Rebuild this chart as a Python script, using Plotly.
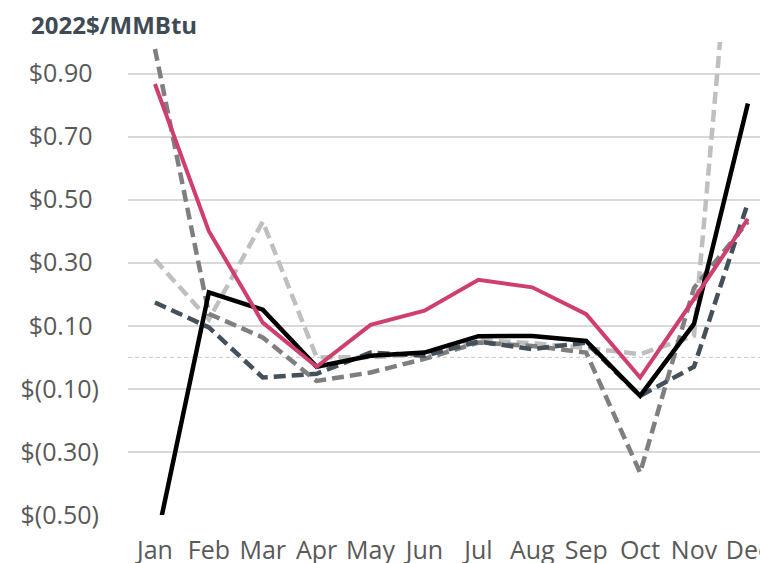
import plotly.graph_objects as go

months = ["Jan", "Feb", "Mar", "Apr", "May", "Jun", "Jul", "Aug", "Sep", "Oct", "Nov", "Dec"]

light_gray = [0.31, 0.12, 0.43, 0.00, 0.00, 0.01, 0.055, 0.045, 0.03, 0.01, 0.068, 2.0]
medium_gray = [0.978, 0.138, 0.063, -0.075, -0.048, -0.005, 0.047, 0.036, 0.015, -0.366, 0.22, 0.43]
dark_slate = [0.174, 0.095, -0.064, -0.052, 0.015, 0.005, 0.05, 0.026, 0.047, -0.122, -0.03, 0.49]
black = [-0.605, 0.206, 0.151, -0.03, 0.005, 0.015, 0.067, 0.068, 0.052, -0.122, 0.106, 0.805]
magenta = [0.867, 0.40, 0.11, -0.03, 0.103, 0.148, 0.246, 0.222, 0.137, -0.064, 0.185, 0.439]

tick_vals = [-0.5, -0.3, -0.1, 0.1, 0.3, 0.5, 0.7, 0.9]
tick_text = ["$(0.50)", "$(0.30)", "$(0.10)", "$0.10\u00a0", "$0.30\u00a0", "$0.50\u00a0", "$0.70\u00a0", "$0.90\u00a0"]

FONT = "Open Sans"
fig = go.Figure()

series = [
    (light_gray, "#BFBFBF", "12px,6px", 4.5),
    (medium_gray, "#7F7F7F", "12px,6px", 4.5),
    (dark_slate, "#44505C", "12px,6px", 4.5),
    (black, "#000000", "solid", 4.5),
    (magenta, "#CF3F6E", "solid", 4),
]
for vals, color, dash, w in series:
    fig.add_trace(go.Scatter(
        x=list(range(len(months))), y=vals, mode="lines",
        line=dict(color=color, width=w, dash=dash),
        hoverinfo="skip", showlegend=False,
    ))

fig.add_shape(type="line", xref="paper", yref="y", x0=0, x1=1, y0=0, y1=0,
              line=dict(color="#C8C8C8", width=1, dash="4px,3px"), layer="below")

fig.add_annotation(text="<b>2022$/MMBtu</b>", xref="paper", yref="paper",
                   x=(29 - 128) / 632, y=1, yshift=18, xanchor="left", yanchor="middle",
                   showarrow=False, font=dict(family=FONT, size=24, color="#3F4A55"))

fig.update_layout(
    width=760, height=563,
    margin=dict(l=128, r=0, t=42, b=48),
    paper_bgcolor="white", plot_bgcolor="white",
    font=dict(family=FONT, size=25, color="#595959"),
    showlegend=False,
    xaxis=dict(
        range=[-0.5, (760 - 155) / 53.9],
        tickmode="array", tickvals=list(range(len(months))), ticktext=months,
        showgrid=False, zeroline=False, showline=False, ticks="",
        ticklabelstandoff=18, automargin=False, ticklabeloverflow="allow",
        tickfont=dict(family=FONT, size=25, color="#595959"),
    ),
    yaxis=dict(
        range=[-0.5, 1.0],
        tickmode="array", tickvals=tick_vals, ticktext=tick_text,
        showgrid=True, gridcolor="#D9D9D9", gridwidth=1.5,
        zeroline=False, showline=False, ticks="",
        ticklabelstandoff=28, automargin=False,
        tickfont=dict(family=FONT, size=25, color="#595959"),
    ),
)

fig.write_html("out.html", config={"displayModeBar": False},
               post_script="document.body.style.margin='0';document.body.style.overflow='hidden';")
